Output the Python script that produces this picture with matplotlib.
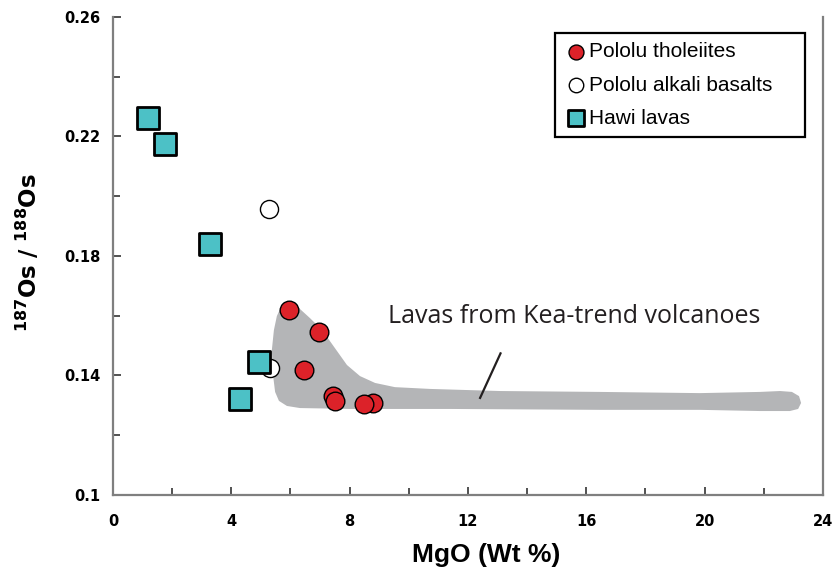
import matplotlib.pyplot as plt
from matplotlib.patches import Polygon

# Pololu tholeiites (MgO wt%, 187Os/188Os)
thol_mgo = [5.96, 6.98, 6.46, 7.45, 7.52, 8.80, 8.50]
thol_os = [0.1619, 0.1544, 0.1418, 0.1331, 0.1314, 0.1307, 0.1304]

# Pololu alkali basalts
alk_mgo = [5.27, 5.31]
alk_os = [0.1957, 0.1424]

# Hawi lavas
hawi_mgo = [1.18, 1.76, 3.28, 4.94, 4.29]
hawi_os = [0.2262, 0.2175, 0.184, 0.1445, 0.1321]

# outline of the Kea-trend field
kea_mgo = [5.92, 5.68, 5.54, 5.44, 5.37, 5.41, 5.48, 5.61, 5.88, 6.32, 8.01,
           11.39, 16.46, 19.84, 21.87, 22.88, 23.16, 23.26, 23.19, 22.95,
           22.55, 21.87, 19.84, 16.46, 13.08, 10.72, 9.53, 8.86, 8.35, 7.91,
           7.50, 7.07, 6.66, 6.25]
kea_os = [0.1643, 0.1629, 0.1599, 0.1552, 0.1485, 0.1402, 0.1345, 0.1315,
          0.1298, 0.1291, 0.1288, 0.1288, 0.1285, 0.1285, 0.1281, 0.1281,
          0.1288, 0.1308, 0.1331, 0.1345, 0.1348, 0.1345, 0.1341, 0.1345,
          0.1348, 0.1355, 0.1361, 0.1375, 0.1398, 0.1435, 0.1492, 0.1552,
          0.1592, 0.1629]

plt.rcParams['mathtext.fontset'] = 'dejavusans'

fig = plt.figure(figsize=(8.35, 5.70), dpi=100)
ax = fig.add_axes([0.1353, 0.1316, 0.8503, 0.8386])

ax.add_patch(Polygon(list(zip(kea_mgo, kea_os)), closed=True,
                     facecolor='#b4b5b7', edgecolor='none', zorder=1))
ax.plot([13.10, 12.41], [0.1474, 0.1325], color='#231f20', lw=1.6, zorder=2)
ax.text(9.30, 0.1575, 'Lavas from Kea-trend volcanoes', fontsize=18,
        family='Open Sans', color='#231f20', va='baseline')

ax.scatter(thol_mgo, thol_os, s=180, marker='o', facecolor='#dc2229',
           edgecolor='black', linewidth=1, zorder=4, label='Pololu tholeiites')
ax.scatter(alk_mgo, alk_os, s=170, marker='o', facecolor='white',
           edgecolor='black', linewidth=1, zorder=3,
           label='Pololu alkali basalts')
ax.scatter(hawi_mgo, hawi_os, s=230, marker='s', facecolor='#4cc1c6',
           edgecolor='black', linewidth=2, zorder=5, label='Hawi lavas')

ax.set_xlim(0, 24)
ax.set_ylim(0.1, 0.26)
ax.set_xticks(range(0, 25, 4))
ax.set_xticks(range(2, 24, 4), minor=True)
ax.set_yticks([0.1, 0.14, 0.18, 0.22, 0.26])
ax.set_yticks([0.12, 0.16, 0.2, 0.24], minor=True)
ax.set_yticklabels(['0.1', '0.14', '0.18', '0.22', '0.26'])

for side in ['left', 'bottom', 'right']:
    ax.spines[side].set_color('#7f7f7f')
    ax.spines[side].set_linewidth(1.6)
ax.spines['top'].set_visible(False)

ax.tick_params(which='both', direction='in', color='#333333', width=1.2)
ax.tick_params(which='major', length=6)
ax.tick_params(which='minor', length=5)
ax.tick_params(axis='x', pad=14, labelsize=10.5)
ax.tick_params(axis='y', pad=9, labelsize=10.5)
for lab in ax.get_xticklabels() + ax.get_yticklabels():
    lab.set_fontweight('bold')

ax.set_xlabel('MgO (Wt %)', fontsize=19, fontweight='bold',
              family='Liberation Sans')
ax.xaxis.set_label_coords(0.525, -0.100)
ax.set_ylabel(r'$\mathbf{^{187}Os\ /\ ^{188}Os}$', fontsize=16.5)
ax.yaxis.set_label_coords(-0.100, 0.508)

leg = ax.legend(loc='upper left', bbox_to_anchor=(0.6225, 0, 0.3521, 0.9665),
                mode='expand', borderaxespad=0, fancybox=False,
                edgecolor='black', framealpha=1, markerscale=0.8,
                handletextpad=0.1, handlelength=1.1, labelspacing=0.68,
                borderpad=0.45,
                prop={'family': 'Liberation Sans', 'size': 15})
leg.get_frame().set_linewidth(1.6)

fig.savefig('out.png', dpi=100)
